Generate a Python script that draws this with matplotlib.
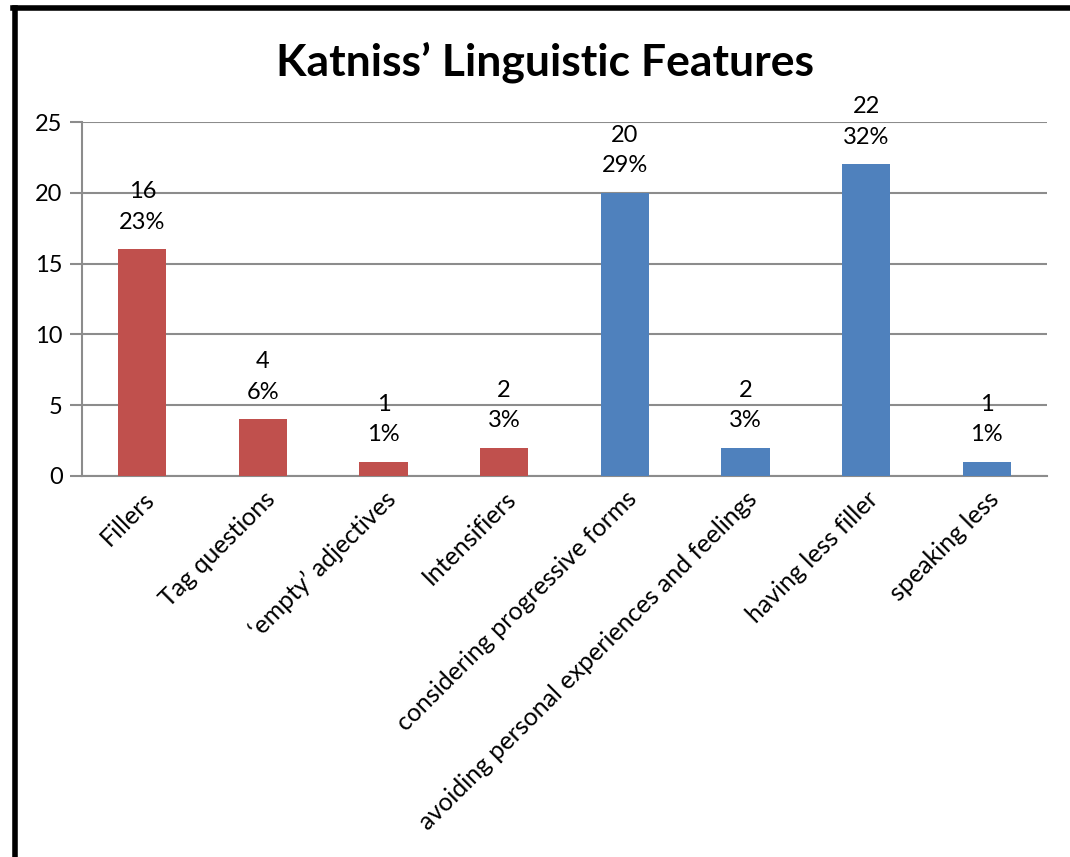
import matplotlib.pyplot as plt
import numpy as np
from matplotlib.lines import Line2D

plt.rcParams['font.family'] = ['Lato', 'DejaVu Sans']

categories = ['Fillers', 'Tag questions', '\u2018empty\u2019 adjectives', 'Intensifiers',
              'considering progressive forms',
              'avoiding personal experiences and feelings',
              'having less filler', 'speaking less']
counts = [16, 4, 1, 2, 20, 2, 22, 1]
percents = ['23%', '6%', '1%', '3%', '29%', '3%', '32%', '1%']
bar_colors = ['#C0504D'] * 4 + ['#4F81BD'] * 4

fig = plt.figure(figsize=(10.7, 8.57), dpi=100)
ax = fig.add_axes([82 / 1070, 1 - 476 / 857, 965 / 1070, 354 / 857])

x = np.arange(len(categories))
ax.bar(x, counts, width=0.4, color=bar_colors, zorder=3)

for xi, c, p in zip(x, counts, percents):
    ax.annotate('%d\n%s' % (c, p), (xi, c), xytext=(0, 12),
                textcoords='offset points', ha='center', va='bottom',
                fontsize=17, linespacing=1.55, zorder=4)

ax.set_xlim(-0.5, len(categories) - 0.5)
ax.set_ylim(0, 25)
ax.set_yticks(range(0, 26, 5))
ax.yaxis.grid(True, color='#8C8C8C', linewidth=1.5, zorder=0)
ax.tick_params(axis='y', length=9, width=1.5, color='#8C8C8C', labelsize=17, pad=5)
ax.tick_params(axis='x', length=0, labelsize=18, pad=8)
ax.set_xticks(x)
ax.set_xticklabels(categories, rotation=45, ha='right', va='top',
                   rotation_mode='anchor')

for side in ['top', 'right']:
    ax.spines[side].set_visible(False)
for side in ['left', 'bottom']:
    ax.spines[side].set_color('#8C8C8C')
    ax.spines[side].set_linewidth(1.5)

fig.text(545 / 1070, 1 - 62 / 857, 'Katniss\u2019 Linguistic Features',
         ha='center', va='center', fontsize=32, fontweight='bold')

# outer frame (left and top edges)
fig.add_artist(Line2D([15 / 1070, 15 / 1070], [0, 1 - 8 / 857],
                      transform=fig.transFigure, color='black', linewidth=4))
fig.add_artist(Line2D([13 / 1070, 1], [1 - 8 / 857, 1 - 8 / 857],
                      transform=fig.transFigure, color='black', linewidth=4))

fig.savefig('out.png', dpi=100)
